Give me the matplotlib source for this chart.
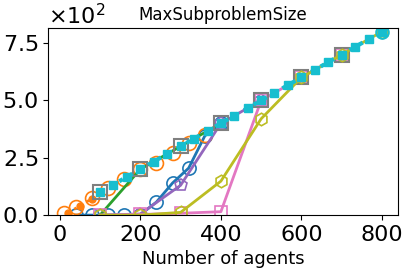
import numpy as np
import matplotlib
matplotlib.use("Agg")
import matplotlib.pyplot as plt

# agents vs. max subproblem size, one list pair per method
blue_x = [40, 80, 120, 160, 200, 240, 280, 320, 360, 400]
blue_y = [0, 0, 0, 0, 2, 57, 140, 205, 345, 400]

orange_x = [10, 40, 80, 120, 160, 200, 240, 280, 320, 360]
orange_y = [8, 36, 76, 118, 157, 200, 228, 270, 313, 350]

orange2_x = [20, 50, 80]
orange2_y = [10, 40, 72]

green_x = [100, 200, 300, 400]
green_y = [0, 200, 300, 400]

red_x = [100, 200, 300, 400, 500, 600, 700]
red_y = [100, 200, 300, 400, 500, 600, 700]

purple_x = [100, 200, 300, 400, 500]
purple_y = [0, 5, 130, 400, 500]

pink_x = [100, 200, 300, 400, 500, 600, 700]
pink_y = [0, 3, 8, 15, 500, 600, 700]

gray_x = [100, 200, 300, 400, 500, 600, 700]
gray_y = [100, 200, 300, 400, 500, 600, 700]

olive_x = [100, 200, 300, 400, 500, 600, 700, 800]
olive_y = [0, 0, 12, 148, 420, 600, 700, 800]

cyan_x = [100, 133, 167, 200, 233, 267, 300, 333, 367, 400, 433, 467,
          500, 533, 567, 600, 633, 667, 700, 733, 767, 800]
cyan_y = cyan_x

fig = plt.figure(figsize=(4.09, 2.73), dpi=100)
ax = fig.add_axes([0.117, 0.212, 0.856, 0.685])

ax.plot(blue_x, blue_y, color="tab:blue", lw=2, marker="o", ms=9.5, mfc="none", mew=1.2)
ax.plot(orange_x, orange_y, color="tab:orange", lw=0, marker="o", ms=10, mfc="none", mew=1.2)
ax.plot(orange2_x, orange2_y, color="tab:orange", ls=":", lw=2, marker="o", ms=5)
ax.plot(green_x, green_y, color="tab:green", lw=2)
ax.plot(red_x, red_y, color="tab:red", lw=0, marker="o", ms=5, mfc="none", mew=1.5)
ax.plot(purple_x, purple_y, color="tab:purple", lw=2, marker="p", ms=9, mfc="none", mew=1.2)
ax.plot(pink_x, pink_y, color="tab:pink", lw=2, marker="s", ms=9, mfc="none", mew=1.2)
ax.plot(gray_x, gray_y, color="tab:gray", lw=0, marker="s", ms=9.5, mfc="none", mew=1.5)
ax.plot(olive_x, olive_y, color="tab:olive", lw=2, marker="h", ms=9, mfc="none", mew=1.2)
ax.plot(cyan_x, cyan_y, color="tab:cyan", ls=":", lw=3, marker="s", ms=5.5)
ax.plot(cyan_x[-1:], cyan_y[-1:], color="tab:cyan", lw=0, marker="o", ms=9, mfc="none", mew=1.5)

ax.set_ylim(0, 815)
ax.set_xticks([0, 200, 400, 600, 800])
ax.set_yticks([0, 250, 500, 750])
ax.ticklabel_format(axis="y", style="sci", scilimits=(2, 2), useMathText=True)
ax.tick_params(labelsize=16)
ax.yaxis.get_offset_text().set_fontsize(16)
ax.set_xlabel("Number of agents", fontsize=13)
ax.set_title("MaxSubproblemSize", fontsize=12)

fig.savefig("out.png", dpi=100)
